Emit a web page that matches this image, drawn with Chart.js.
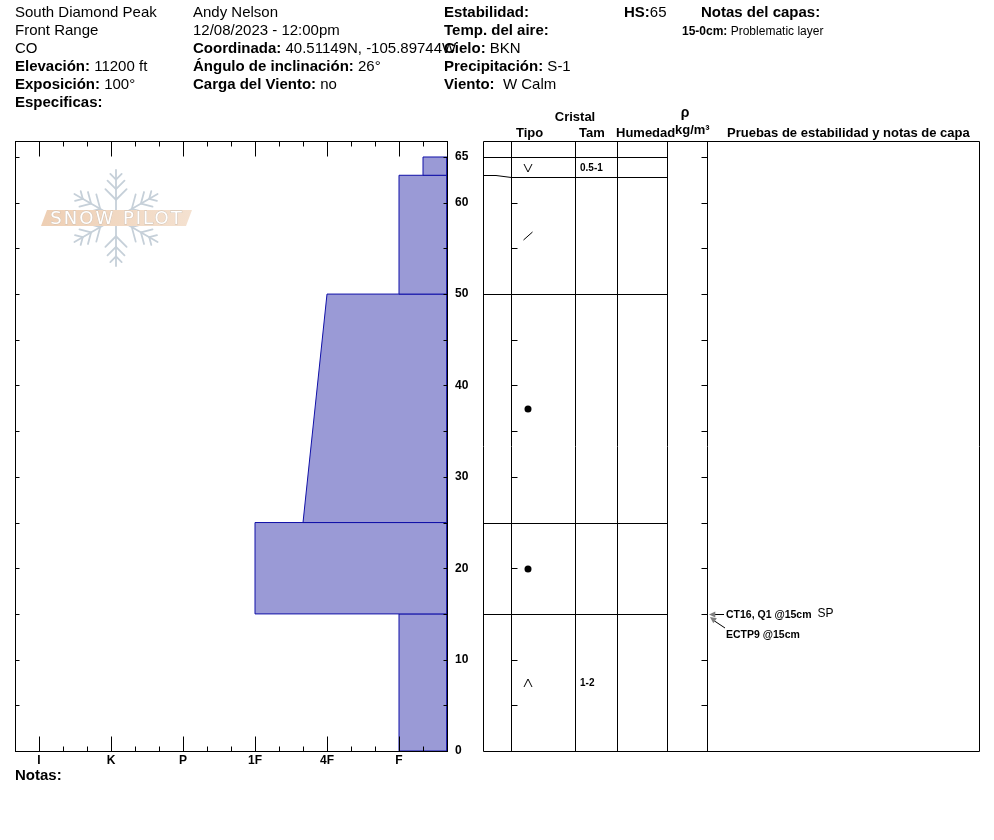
<!DOCTYPE html>
<html>
<head>
<meta charset="utf-8">
<script src="https://cdn.jsdelivr.net/npm/chart.js@4.4.1/dist/chart.umd.min.js"></script>
<style>
  html, body { margin: 0; padding: 0; background: #fff; }
  #wrap { position: relative; width: 994px; height: 840px; font-family: "Liberation Sans", Arial, sans-serif; color: #000; }
  #wrap canvas { position: absolute; left: 0; top: 0; }
  .t { position: absolute; font-size: 15px; line-height: 18px; white-space: nowrap; }
  .t b { font-weight: bold; }
  .small { font-size: 12px; }
</style>
</head>
<body>
<div id="wrap">
  <canvas id="profile" width="994" height="840"></canvas>

  <div class="t" style="left:15px;top:3px">South Diamond Peak<br>Front Range<br>CO<br><b>Elevación:</b> 11200 ft<br><b>Exposición:</b> 100°<br><b>Especificas:</b></div>
  <div class="t" style="left:193px;top:3px">Andy Nelson<br>12/08/2023 - 12:00pm<br><b>Coordinada:</b> 40.51149N, -105.89744W<br><b>Ángulo de inclinación:</b> 26°<br><b>Carga del Viento:</b> no</div>
  <div class="t" style="left:444px;top:3px"><b>Estabilidad:</b><br><b>Temp. del aire:</b><br><b>Cielo:</b> BKN<br><b>Precipitación:</b> S-1<br><b>Viento:</b>&nbsp; W Calm</div>
  <div class="t" style="left:624px;top:3px"><b>HS:</b>65</div>
  <div class="t" style="left:701px;top:3px"><b>Notas del capas:</b></div>
  <div class="t small" style="left:682px;top:22px"><b>15-0cm:</b> Problematic layer</div>
  <div class="t" style="left:15px;top:766px"><b>Notas:</b></div>
</div>

<script>
// Snow layers, top to bottom (cm above ground)
const depthTop    = [65, 63, 50, 25, 15];
const depthBottom = [63, 50, 25, 15, 0];
// Hand hardness at the top and bottom of each layer
const hardTop     = ['F-', 'F', '4F', '1F', 'F'];
const hardBottom  = ['F-', 'F', '4F+', '1F', 'F'];
// Crystal type and size (mm) per layer
const grainType   = ['SH', 'DF', 'RG', 'RG', 'DH'];
const grainSize   = ['0.5-1', '', '', '', '1-2'];
// Axis labels
const hardnessLabels = ['I', 'K', 'P', '1F', '4F', 'F'];
const depthLabels    = [0, 10, 20, 30, 40, 50, 60, 65];
// Stability tests
const testResults = ['CT16, Q1 @15cm', 'ECTP9 @15cm'];
const testDepth   = [15, 15];
const testShear   = ['SP', ''];

const FONT = '"Liberation Sans", Arial, sans-serif';
Chart.defaults.font.family = FONT;
Chart.defaults.color = '#000';

const H_MIN = 1 / 3, H_MAX = 19 / 3;   // hardness axis runs from F-- to I+
const D_MAX = 66.75;

function hardnessValue(code) {
  const base = code.replace(/[+-]$/, '');
  let v = 6 - hardnessLabels.indexOf(base);
  if (code.endsWith('+')) v += 1 / 3;
  if (code.endsWith('-')) v -= 1 / 3;
  return v;
}

// One closed polygon per layer, filled from the soft edge to its hardness
const layerSets = depthTop.map((top, i) => ({
  data: [
    { x: H_MIN, y: depthBottom[i] },
    { x: hardnessValue(hardBottom[i]), y: depthBottom[i] },
    { x: hardnessValue(hardTop[i]), y: top },
    { x: H_MIN, y: top },
    { x: H_MIN, y: depthBottom[i] }
  ],
  showLine: true,
  fill: 'shape',
  backgroundColor: '#9a9ad6',
  borderColor: '#1010a8',
  borderWidth: 1,
  pointRadius: 0,
  tension: 0
}));

function drawLogo(ctx, cx, cy) {
  ctx.save();
  ctx.strokeStyle = '#c6d0d9';
  ctx.lineWidth = 1.8;
  ctx.lineCap = 'round';
  const R = 48;
  for (let k = 0; k < 6; k++) {
    const ang = -Math.PI / 2 + k * Math.PI / 3;
    const ux = Math.cos(ang), uy = Math.sin(ang);
    ctx.beginPath();
    ctx.moveTo(cx + ux * 8, cy + uy * 8);
    ctx.lineTo(cx + ux * R, cy + uy * R);
    ctx.stroke();
    [[0.38, 15], [0.6, 12], [0.8, 8]].forEach(([f, len]) => {
      const bx = cx + ux * R * f, by = cy + uy * R * f;
      for (const s of [-1, 1]) {
        const b = ang + s * Math.PI / 4;
        ctx.beginPath();
        ctx.moveTo(bx, by);
        ctx.lineTo(bx + Math.cos(b) * len, by + Math.sin(b) * len);
        ctx.stroke();
      }
    });
  }
  ctx.beginPath();
  ctx.moveTo(cx - 75, cy + 8);
  ctx.lineTo(cx - 69, cy - 8);
  ctx.lineTo(cx + 76, cy - 8);
  ctx.lineTo(cx + 70, cy + 8);
  ctx.closePath();
  const g = ctx.createLinearGradient(cx - 75, 0, cx + 76, 0);
  g.addColorStop(0, '#eecfb4');
  g.addColorStop(1, '#f4e1d0');
  ctx.fillStyle = g;
  ctx.fill();
  ctx.font = '18px "DejaVu Sans", sans-serif';
  ctx.letterSpacing = '2px';
  ctx.textAlign = 'center';
  ctx.textBaseline = 'middle';
  ctx.lineWidth = 0.8;
  ctx.strokeStyle = '#cdbfb2';
  ctx.strokeText('SNOW PILOT', cx + 1, cy + 1);
  ctx.fillStyle = '#ffffff';
  ctx.fillText('SNOW PILOT', cx + 1, cy + 1);
  ctx.restore();
}

function drawGrain(ctx, type, cx, cy) {
  ctx.beginPath();
  if (type === 'SH') {
    ctx.moveTo(cx - 4, cy - 4); ctx.lineTo(cx, cy + 4); ctx.lineTo(cx + 4, cy - 4); ctx.stroke();
  } else if (type === 'DH') {
    ctx.moveTo(cx - 4, cy + 4); ctx.lineTo(cx, cy - 4); ctx.lineTo(cx + 4, cy + 4); ctx.stroke();
  } else if (type === 'DF') {
    ctx.moveTo(cx - 4.5, cy + 4); ctx.lineTo(cx + 4.5, cy - 4); ctx.stroke();
  } else if (type === 'RG') {
    ctx.arc(cx, cy, 3.5, 0, Math.PI * 2); ctx.fill();
  }
}

function arrowHead(ctx, x1, y1, x2, y2) {
  // filled head at (x2, y2), pointing from (x1, y1)
  const a = Math.atan2(y2 - y1, x2 - x1);
  ctx.beginPath();
  ctx.moveTo(x2, y2);
  ctx.lineTo(x2 - 7 * Math.cos(a - 0.45), y2 - 7 * Math.sin(a - 0.45));
  ctx.lineTo(x2 - 7 * Math.cos(a + 0.45), y2 - 7 * Math.sin(a + 0.45));
  ctx.closePath();
  ctx.fill();
}

const profileDecor = {
  id: 'profileDecor',
  beforeDatasetsDraw(chart) {
    drawLogo(chart.ctx, 116, 218);
  },
  afterDraw(chart) {
    const { ctx, chartArea: a, scales: { x, y } } = chart;
    const px = v => Math.round(x.getPixelForValue(v)) + 0.5;
    const py = v => Math.round(y.getPixelForValue(v)) + 0.5;
    const L = (x1, y1, x2, y2) => { ctx.beginPath(); ctx.moveTo(x1, y1); ctx.lineTo(x2, y2); ctx.stroke(); };
    ctx.save();
    ctx.strokeStyle = '#000';
    ctx.fillStyle = '#000';
    ctx.lineWidth = 1;

    const top = a.top + 0.5, bot = a.bottom + 0.5, lft = a.left + 0.5, rgt = a.right + 0.5;
    // frame of the hardness profile
    ctx.strokeRect(lft, top, a.right - a.left, a.bottom - a.top);
    // hardness ticks (major at each class, minor at thirds)
    for (let k = 1; k <= 19; k++) {
      const X = px(k / 3);
      const len = k % 3 === 0 ? 15 : 5;
      L(X, top, X, top + len);
      L(X, bot, X, bot - len);
    }
    // depth ticks every 5 cm, drawn inward
    for (let d = 5; d <= 65; d += 5) {
      const Y = py(d);
      L(lft, Y, lft + 4, Y);
      L(rgt - 4, Y, rgt, Y);
    }

    // ---- layer table ----
    const TL = 483.5, TR = 979.5;
    const cols = [511.5, 575.5, 617.5, 667.5, 707.5];
    L(TL, top, TR, top);
    L(TL, bot, TR, bot);
    [TL, ...cols, TR].forEach(c => L(c, top, c, bot));

    // row boundaries: at least 20 px per row so the text fits
    const yActual = depthTop.map(d => py(d));
    const yRow = [];
    yActual.forEach((ya, i) => {
      yRow.push(i === 0 ? ya : Math.max(ya, yRow[i - 1] + 20));
    });
    yRow.forEach((yr, i) => {
      const ya = yActual[i];
      if (yr !== ya) {
        L(TL, ya, 496, ya);
        ctx.beginPath(); ctx.moveTo(496, ya); ctx.lineTo(cols[0], yr); ctx.stroke();
        L(cols[0], yr, cols[3], yr);
      } else {
        L(TL, yr, cols[3], yr);
      }
    });
    // depth ticks on the table
    for (let d = 5; d <= 65; d += 5) {
      const Y = py(d);
      L(cols[0], Y, cols[0] + 6, Y);
      L(cols[4] - 6, Y, cols[4], Y);
    }

    // grain symbols and sizes at the middle of each row
    ctx.font = 'bold 10px ' + FONT;
    ctx.textBaseline = 'middle';
    ctx.textAlign = 'left';
    yRow.forEach((yr, i) => {
      const next = i + 1 < yRow.length ? yRow[i + 1] : bot;
      const cy = Math.round((yr + next) / 2);
      drawGrain(ctx, grainType[i], 528, cy);
      if (grainSize[i]) ctx.fillText(grainSize[i], 580, cy + 0.5);
    });

    // column headings
    ctx.textBaseline = 'alphabetic';
    ctx.font = 'bold 13px ' + FONT;
    ctx.textAlign = 'center';
    ctx.fillText('Cristal', 575, 121);
    ctx.textAlign = 'left';
    ctx.fillText('Tipo', 516, 137);
    ctx.fillText('Tam', 579, 137);
    ctx.fillText('Humedad', 616, 137);
    ctx.fillText('kg/m³', 675, 134);
    ctx.fillText('Pruebas de estabilidad y notas de capa', 727, 137);
    ctx.font = 'bold 14px ' + FONT;
    ctx.textAlign = 'center';
    ctx.fillText('ρ', 685, 117);

    // stability test results with pointers to the tested depth
    ctx.textAlign = 'left';
    testResults.forEach((txt, i) => {
      const ya = Math.round(y.getPixelForValue(testDepth[i]));
      const ty = ya + i * 20;
      ctx.strokeStyle = '#000';
      ctx.fillStyle = '#808080';
      if (i === 0) {
        L(724, ty + 0.5, 712, ty + 0.5);
        arrowHead(ctx, 724, ty + 0.5, 709, ty + 0.5);
      } else {
        L(725, ty - 6, 713, ya + 6);
        arrowHead(ctx, 725, ty - 6, 710, ya + 3);
      }
      ctx.fillStyle = '#000';
      ctx.font = 'bold 10.5px ' + FONT;
      ctx.textBaseline = 'middle';
      ctx.fillText(txt, 726, ty + 1);
      if (testShear[i]) {
        const w = ctx.measureText(txt).width;
        ctx.font = '12px ' + FONT;
        ctx.fillText(testShear[i], 726 + w + 6, ty);
      }
    });
    ctx.restore();
  }
};

new Chart(document.getElementById('profile'), {
  type: 'scatter',
  data: { datasets: layerSets },
  options: {
    responsive: false,
    animation: false,
    layout: { padding: { left: 15, top: 141, right: 0, bottom: 0 } },
    plugins: { legend: { display: false }, tooltip: { enabled: false } },
    scales: {
      x: {
        type: 'linear', position: 'bottom', reverse: true, min: H_MIN, max: H_MAX,
        grid: { display: false, drawTicks: false }, border: { display: false },
        afterBuildTicks: s => { s.ticks = hardnessLabels.map((l, i) => ({ value: 6 - i })); },
        afterFit: s => { s.height = 89; },
        ticks: {
          autoSkip: false, maxRotation: 0, padding: 2, color: '#000',
          font: { size: 12, weight: 'bold' },
          callback: v => hardnessLabels[6 - Math.round(v)]
        }
      },
      y: {
        type: 'linear', position: 'right', min: 0, max: D_MAX,
        grid: { display: false, drawTicks: false }, border: { display: false },
        afterBuildTicks: s => { s.ticks = depthLabels.map(v => ({ value: v })); },
        afterFit: s => { s.width = 547; },
        ticks: {
          autoSkip: false, padding: 8, color: '#000',
          font: { size: 12, weight: 'bold' },
          callback: v => String(v)
        }
      }
    }
  },
  plugins: [profileDecor]
});
</script>
</body>
</html>
